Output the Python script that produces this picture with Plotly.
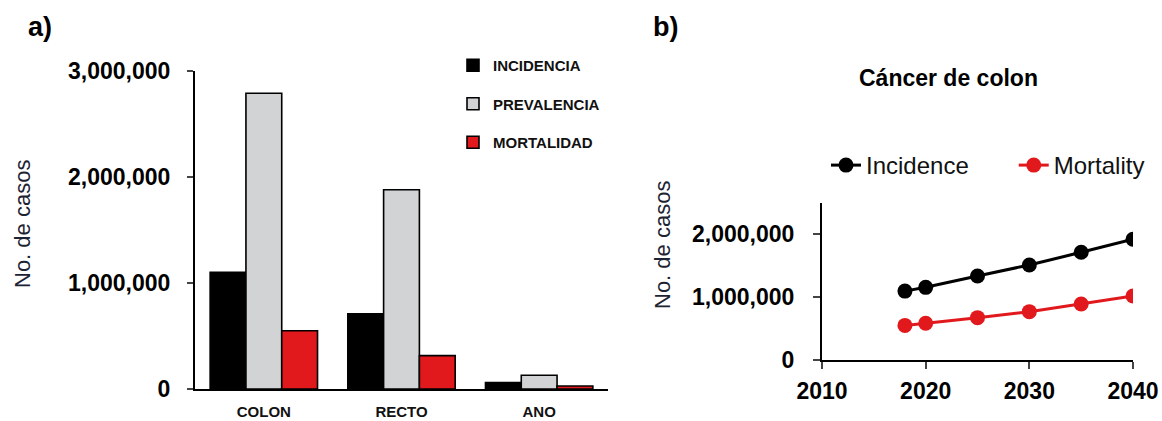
import plotly.graph_objects as go

# Panel a: cases by anatomic site
sites = ["COLON", "RECTO", "ANO"]
incidencia = [1100000, 710000, 60000]
prevalencia = [2790000, 1880000, 130000]
mortalidad = [550000, 315000, 28000]

# Panel b: colon cancer projections
years = [2018, 2020, 2025, 2030, 2035, 2040]
incidence = [1097000, 1157000, 1337000, 1513000, 1715000, 1922000]
mortality = [551000, 584000, 674000, 770000, 892000, 1019000]

FONT = "Liberation Sans, Arial, sans-serif"
W, H = 1162, 421

def px_x(v):
    return v / W

def px_y(v):
    return 1 - v / H

fig = go.Figure()

bar_series = [
    ("INCIDENCIA", incidencia, "#000000"),
    ("PREVALENCIA", prevalencia, "#D1D3D4"),
    ("MORTALIDAD", mortalidad, "#E1191D"),
]
for name, vals, color in bar_series:
    fig.add_trace(go.Bar(
        x=sites, y=vals, name=name, marker_color=color,
        marker_line=dict(color="#000000", width=1.6),
        xaxis="x", yaxis="y", legend="legend", legendgroup=name,
    ))

# non-breaking spaces widen the first horizontal legend entry
line_series = [
    ("Incidence" + "\u00a0" * 6, incidence, "#000000"),
    ("Mortality", mortality, "#E1191D"),
]
for name, vals, color in line_series:
    fig.add_trace(go.Scatter(
        x=years, y=vals, name=name, mode="lines+markers",
        line=dict(color=color, width=3),
        marker=dict(color=color, size=15),
        xaxis="x2", yaxis="y2", legend="legend2",
    ))

axis_common = dict(
    showgrid=False, zeroline=False, showline=True, linecolor="#000000",
    linewidth=2, automargin=False,
)

fig.update_layout(
    width=W, height=H,
    margin=dict(l=0, r=0, t=0, b=0),
    paper_bgcolor="white", plot_bgcolor="white",
    font=dict(family=FONT, color="#000000"),
    barmode="group", bargap=0.22, bargroupgap=0,
    xaxis=dict(
        **axis_common, domain=[px_x(195), px_x(608)], anchor="y",
        ticks="", tickfont=dict(size=15, weight="bold", color="#111111"),
        ticklabelstandoff=8, range=[-0.5, 2.5],
    ),
    yaxis=dict(
        **axis_common, domain=[px_y(389), px_y(71)], anchor="x",
        range=[0, 3000000], tickvals=[0, 1000000, 2000000, 3000000],
        tickformat=",d", ticks="outside", ticklen=6, tickwidth=2,
        tickfont=dict(size=23, weight="bold"), ticklabelstandoff=12,
    ),
    xaxis2=dict(
        **axis_common, domain=[px_x(822), px_x(1133)], anchor="y2",
        range=[2010, 2040], tickvals=[2010, 2020, 2030, 2040],
        ticks="outside", ticklen=7, tickwidth=2,
        tickfont=dict(size=23, weight="bold"), ticklabelstandoff=2,
    ),
    yaxis2=dict(
        **axis_common, domain=[px_y(360), px_y(203)], anchor="x2",
        range=[0, 2500000], tickvals=[0, 1000000, 2000000],
        tickformat=",d", ticks="outside", ticklen=7, tickwidth=2,
        tickfont=dict(size=23, weight="bold"), ticklabelstandoff=14,
    ),
    legend=dict(
        x=px_x(453), y=px_y(49), xanchor="left", yanchor="top",
        orientation="v", traceorder="grouped", tracegroupgap=16,
        font=dict(size=15, weight="bold", color="#111111"),
        bgcolor="rgba(0,0,0,0)",
    ),
    legend2=dict(
        x=px_x(826), y=px_y(143), xanchor="left", yanchor="top",
        orientation="h", font=dict(size=24, color="#111111"),
        bgcolor="rgba(0,0,0,0)",
    ),
    showlegend=True,
    annotations=[
        dict(text="a)", x=px_x(26), y=px_y(27), xref="paper", yref="paper",
             xanchor="left", yanchor="middle", showarrow=False,
             font=dict(size=27, weight="bold")),
        dict(text="b)", x=px_x(651), y=px_y(27), xref="paper", yref="paper",
             xanchor="left", yanchor="middle", showarrow=False,
             font=dict(size=27, weight="bold")),
        dict(text="Cáncer de colon", x=px_x(948), y=px_y(78), xref="paper",
             yref="paper", xanchor="center", yanchor="middle",
             showarrow=False, font=dict(size=23, weight="bold")),
        dict(text="No. de casos", x=px_x(22), y=px_y(224), xref="paper",
             yref="paper", xanchor="center", yanchor="middle",
             textangle=-90, showarrow=False,
             font=dict(size=22, color="#1c2333")),
        dict(text="No. de casos", x=px_x(662), y=px_y(245), xref="paper",
             yref="paper", xanchor="center", yanchor="middle",
             textangle=-90, showarrow=False,
             font=dict(size=22, color="#1c2333")),
    ],
)

fig.write_html("out.html")
